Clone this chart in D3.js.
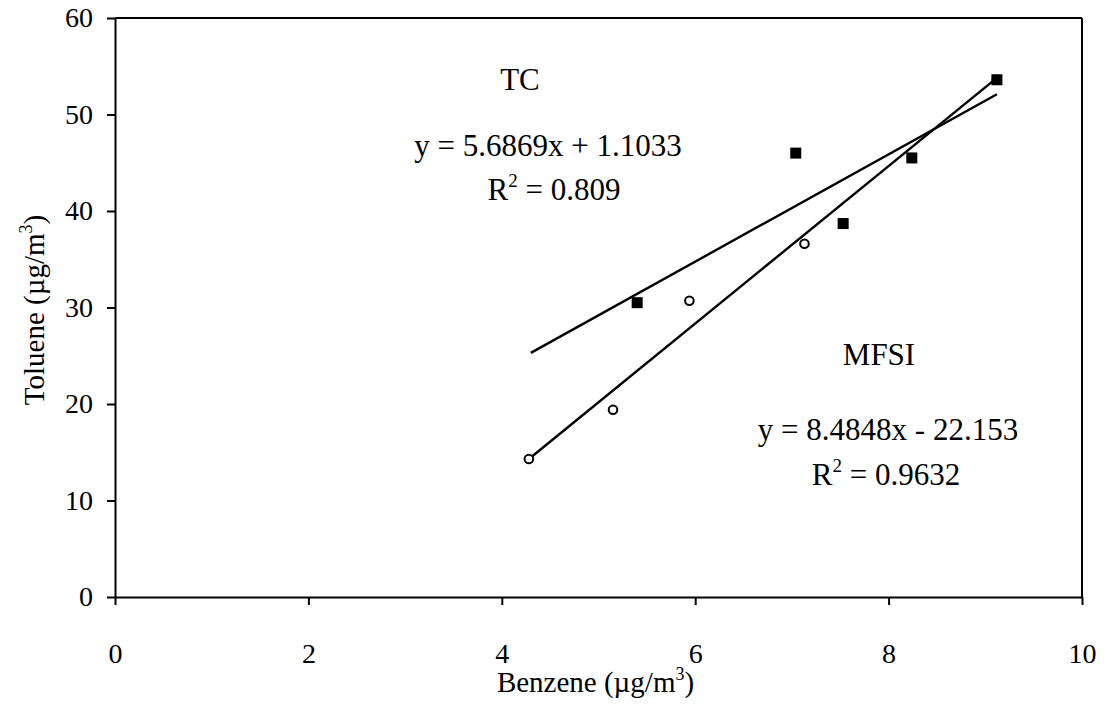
<!DOCTYPE html>
<html>
<head>
<meta charset="utf-8">
<script src="https://cdn.jsdelivr.net/npm/d3@7"></script>
<style>
    body { margin: 0; background: #fff; }
    svg { font-family: "Liberation Serif", "Times New Roman", serif; }
    .axis path, .axis line { stroke: #000; stroke-width: 2; }
</style>
</head>
<body>
<svg id="chart" width="1105" height="707"></svg>
<script>
    // values
    let xTicks = [0, 2, 4, 6, 8, 10]
    let yTicks = [0, 10, 20, 30, 40, 50, 60]

    let tcBenzene = [5.40, 7.04, 7.53, 8.24, 9.12]
    let tcToluene = [30.5, 46.0, 38.7, 45.5, 53.6]

    let mfsiBenzene = [4.28, 5.15, 5.94, 7.13, 9.12]
    let mfsiToluene = [14.3, 19.4, 30.7, 36.6, 53.6]

    // trendline end points as drawn
    let tcTrendX = [4.30, 9.12]
    let tcTrendY = [25.3, 52.1]
    let mfsiTrendX = [4.28, 9.12]
    let mfsiTrendY = [14.3, 53.8]

    let tcLabels = ["TC", "y = 5.6869x + 1.1033", "0.809"]
    let mfsiLabels = ["MFSI", "y = 8.4848x - 22.153", "0.9632"]

    let serif = "'Liberation Serif', 'Times New Roman', serif"
    let svg = d3.select("#chart")
    let plotLeft = 115, plotRight = 1082, plotTop = 18, plotBottom = 597

    let xScale = d3.scaleLinear().domain([0, 10]).range([plotLeft, plotRight])
    let yScale = d3.scaleLinear().domain([0, 60]).range([plotBottom, plotTop])

    // frame
    svg.append("line")
        .attr("x1", plotLeft).attr("x2", plotRight)
        .attr("y1", plotTop).attr("y2", plotTop)
        .attr("stroke", "#000").attr("stroke-width", 2)
    svg.append("line")
        .attr("x1", plotRight).attr("x2", plotRight)
        .attr("y1", plotTop).attr("y2", plotBottom)
        .attr("stroke", "#000").attr("stroke-width", 2)

    // axes
    let xAxis = svg.append("g")
        .attr("class", "axis")
        .attr("transform", "translate(0," + plotBottom + ")")
        .call(d3.axisBottom(xScale).tickValues(xTicks).tickSize(8).tickSizeOuter(0).tickPadding(38))
    let yAxis = svg.append("g")
        .attr("class", "axis")
        .attr("transform", "translate(" + plotLeft + ",0)")
        .call(d3.axisLeft(yScale).tickValues(yTicks).tickSize(8).tickSizeOuter(0).tickPadding(14))

    ;[xAxis, yAxis].forEach(g => {
        g.attr("font-family", serif).attr("font-size", 28)
        g.selectAll("text")
            .style("font-family", serif)
            .style("font-size", "28px")
            .attr("fill", "#000")
    })

    // axis titles
    let xTitle = svg.append("text")
        .attr("x", (plotLeft + plotRight) / 2 - 3).attr("y", 692)
        .attr("text-anchor", "middle")
        .style("font-size", "29px")
    xTitle.append("tspan").text("Benzene (\u00b5g/m")
    xTitle.append("tspan").attr("dy", -12).style("font-size", "18px").text("3")
    xTitle.append("tspan").attr("dy", 12).text(")")

    let yTitle = svg.append("text")
        .attr("transform", "translate(44,310) rotate(-90)")
        .attr("text-anchor", "middle")
        .style("font-size", "29px")
    yTitle.append("tspan").text("Toluene (\u00b5g/m")
    yTitle.append("tspan").attr("dy", -12).style("font-size", "18px").text("3")
    yTitle.append("tspan").attr("dy", 12).text(")")

    // trendlines
    let line = d3.line()
        .x(d => xScale(d[0]))
        .y(d => yScale(d[1]))

    svg.append("path")
        .datum(d3.zip(tcTrendX, tcTrendY))
        .attr("d", line)
        .attr("fill", "none").attr("stroke", "#000").attr("stroke-width", 2.4)
    svg.append("path")
        .datum(d3.zip(mfsiTrendX, mfsiTrendY))
        .attr("d", line)
        .attr("fill", "none").attr("stroke", "#000").attr("stroke-width", 2.4)

    // MFSI points (open circles)
    svg.selectAll(".mfsi")
        .data(d3.zip(mfsiBenzene, mfsiToluene))
        .enter()
        .append("circle")
        .attr("class", "mfsi")
        .attr("cx", d => xScale(d[0]))
        .attr("cy", d => yScale(d[1]))
        .attr("r", 4.3)
        .attr("fill", "#fff")
        .attr("stroke", "#000")
        .attr("stroke-width", 2)

    // TC points (filled squares)
    let s = 11
    svg.selectAll(".tc")
        .data(d3.zip(tcBenzene, tcToluene))
        .enter()
        .append("rect")
        .attr("class", "tc")
        .attr("x", d => xScale(d[0]) - s / 2)
        .attr("y", d => yScale(d[1]) - s / 2)
        .attr("width", s)
        .attr("height", s)
        .attr("fill", "#000")

    // annotations
    function annotate(labels, cx, y0, y1, y2) {
        svg.append("text")
            .attr("x", cx[0]).attr("y", y0)
            .attr("text-anchor", "middle")
            .style("font-size", "31px")
            .text(labels[0])
        svg.append("text")
            .attr("x", cx[1]).attr("y", y1)
            .attr("text-anchor", "middle")
            .style("font-size", "31px")
            .text(labels[1])
        let r = svg.append("text")
            .attr("x", cx[2]).attr("y", y2)
            .attr("text-anchor", "middle")
            .style("font-size", "31px")
        r.append("tspan").text("R")
        r.append("tspan").attr("dy", -13).style("font-size", "19px").text("2")
        r.append("tspan").attr("dy", 13).text(" = " + labels[2])
    }

    annotate(tcLabels, [520, 548, 554], 90, 156, 200)
    annotate(mfsiLabels, [879, 888, 886], 365, 440, 485)
</script>
</body>
</html>
